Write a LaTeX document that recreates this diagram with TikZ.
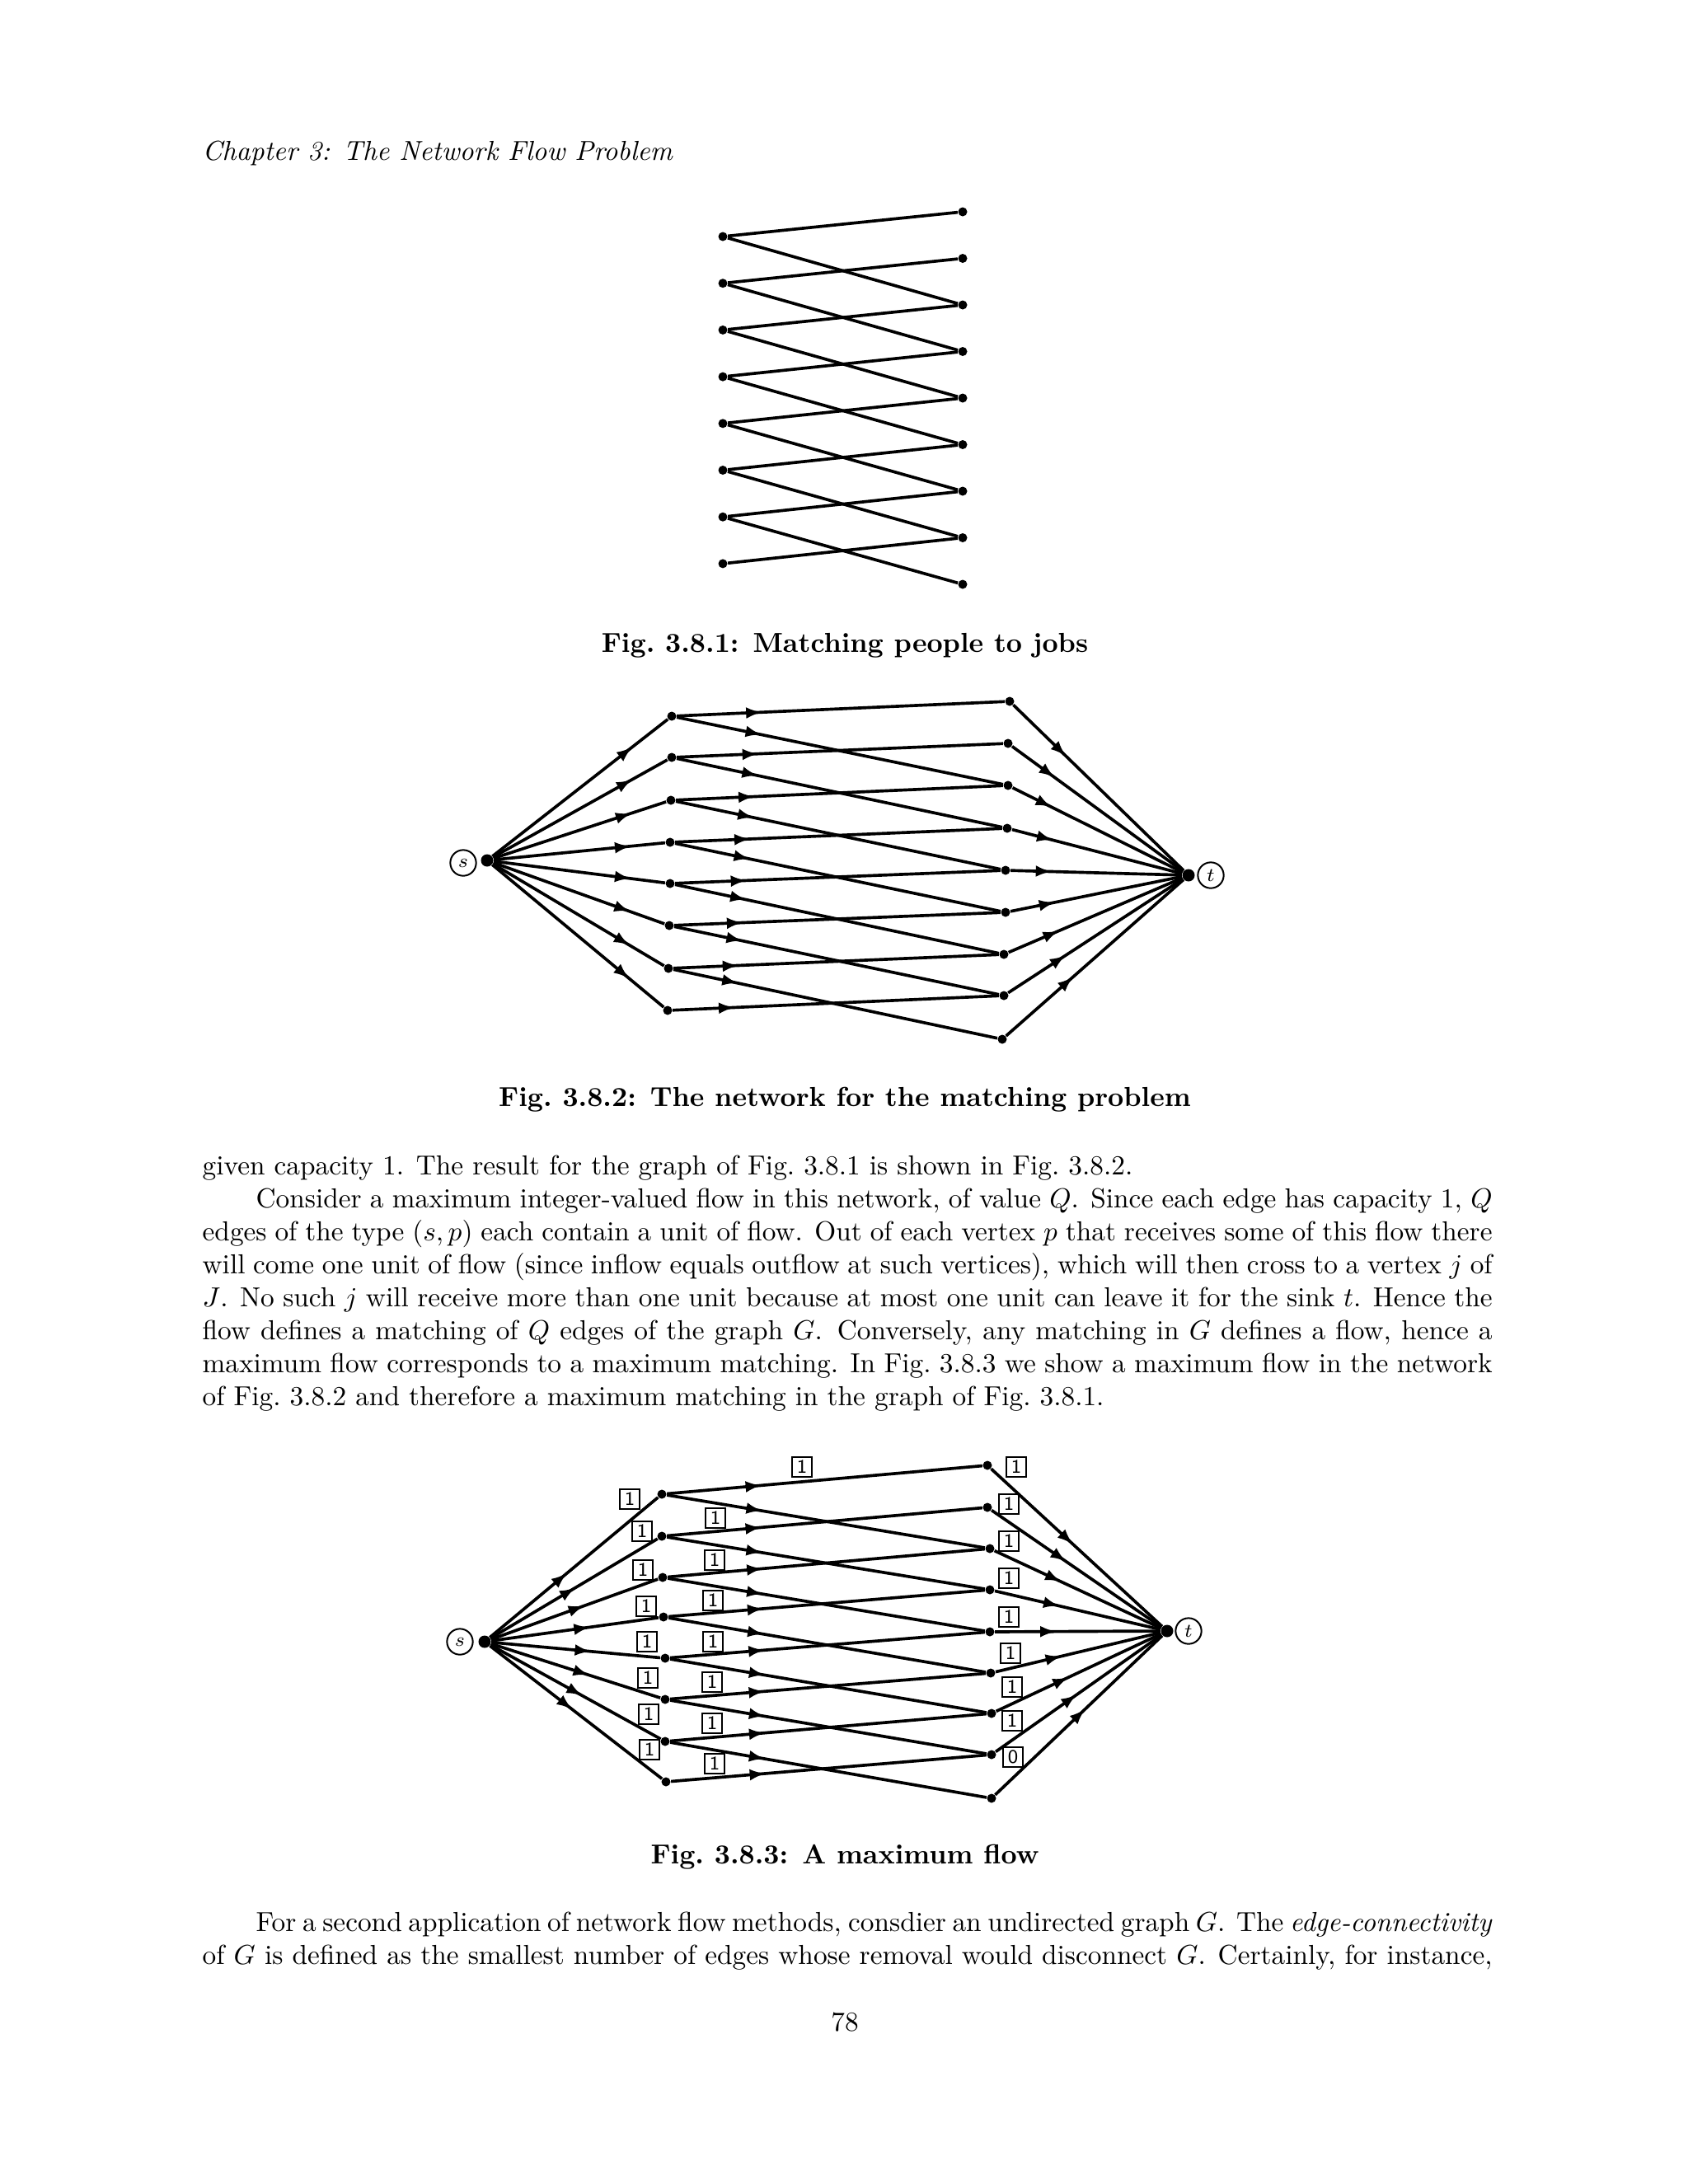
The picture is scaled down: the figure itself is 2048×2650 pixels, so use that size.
\documentclass[tikz,border=0pt]{standalone}
\usepackage{amsmath,amssymb}
\usepackage{tikz}
\usetikzlibrary{arrows.meta,decorations.markings,calc}

\newlength\linew
\setlength\linew{469.5pt}
\newcommand{\jline}[1]{\makebox[\linew][s]{#1}}

\tikzset{
  vtx/.style={circle,fill=black,inner sep=0pt,minimum size=3.3pt},
  link/.style={line width=1.1pt},
  flow/.style={link,postaction={decorate},
    decoration={markings,mark=at position #1 with {\arrow{Latex[length=5.8pt,width=4.2pt]}}}},
  flow/.default=0.5,
  term/.style={circle,draw,line width=0.6pt,inner sep=0pt,minimum size=9.4pt,font=\scriptsize},
  capbox/.style={draw,line width=0.65pt,inner sep=0pt,minimum size=7.2pt,
    font=\sffamily\fontsize{7}{7}\selectfont},
  txtline/.style={anchor=base west,inner sep=0pt},
  capline/.style={anchor=base,inner sep=0pt,font=\bfseries}
}

\begin{document}
\begin{tikzpicture}[x=0.3pt,y=-0.3pt]
  \useasboundingbox[fill=white] (0,0) rectangle (2048,2650);

  % running head
  \node[txtline,font=\itshape] (head) at (245,194) {Chapter 3: The Network Flow Problem};

  % Fig. 3.8.1: people (left) and jobs (right)
  \foreach \i [evaluate=\i as \y using 287+56.7*(\i-1)] in {1,...,8}
    \node[vtx] (pp\i) at (877,\y) {};
  \foreach \i [evaluate=\i as \y using 257+56.5*(\i-1)] in {1,...,9}
    \node[vtx] (jj\i) at (1168,\y) {};
  \foreach \i in {1,...,8} \draw[link] (pp\i) -- (jj\i);
  \foreach \i [evaluate=\i as \k using int(\i+2)] in {1,...,7} \draw[link] (pp\i) -- (jj\k);
  \node[capline] (cap1) at (1025,791) {Fig.\ 3.8.1: Matching people to jobs};

  % Fig. 3.8.2: the network
  \node[vtx,minimum size=4.5pt] (ns) at (591,1044) {};
  \node[vtx,minimum size=4.5pt] (nt) at (1442,1062) {};
  \node[term] (nsl) at (562,1047) {$s$};
  \node[term] (ntl) at (1469,1062) {$t$};
  \foreach \i/\x/\y in {1/815/869,2/815/919,3/814/971,4/813/1022,5/813/1072,6/812/1123,7/811/1175,8/810/1226}
    \node[vtx] (np\i) at (\x,\y) {};
  \foreach \i/\x/\y in {1/1225/851,2/1223/902,3/1223/953,4/1222/1005,5/1220/1056,6/1220/1107,7/1218/1158,8/1218/1208,9/1216/1261}
    \node[vtx] (nj\i) at (\x,\y) {};
  \foreach \i in {1,...,8} \draw[flow=0.8] (ns) -- (np\i);
  \foreach \i [evaluate=\i as \a using 0.27-0.01*\i] in {1,...,8} \draw[flow=\a] (np\i) -- (nj\i);
  \foreach \i [evaluate=\i as \k using int(\i+2), evaluate=\i as \a using 0.27-0.01*\i] in {1,...,7}
    \draw[flow=\a] (np\i) -- (nj\k);
  \foreach \i/\a in {1/0.31,2/0.25,3/0.23,4/0.24,5/0.24,6/0.26,7/0.29,8/0.33,9/0.38}
    \draw[flow=\a] (nj\i) -- (nt);
  \node[capline] (cap2) at (1025,1342) {Fig.\ 3.8.2: The network for the matching problem};

  % text
  \node[txtline] (l1) at (245,1425) {given capacity 1. The result for the graph of Fig.~3.8.1 is shown in Fig.~3.8.2.};
  \node[txtline] (l2) at (245,1465) {\jline{\hspace*{19.5pt}Consider a maximum integer-valued flow in this network, of value $Q$. Since each edge has capacity 1, $Q$}};
  \node[txtline] (l3) at (245,1505) {\jline{edges of the type $(s,p)$ each contain a unit of flow. Out of each vertex $p$ that receives some of this flow there}};
  \node[txtline] (l4) at (245,1545) {\jline{will come one unit of flow (since inflow equals outflow at such vertices), which will then cross to a vertex $j$ of}};
  \node[txtline] (l5) at (245,1585) {\jline{$J$. No such $j$ will receive more than one unit because at most one unit can leave it for the sink $t$. Hence the}};
  \node[txtline] (l6) at (245,1625) {\jline{flow defines a matching of $Q$ edges of the graph $G$. Conversely, any matching in $G$ defines a flow, hence a}};
  \node[txtline] (l7) at (245,1665) {\jline{maximum flow corresponds to a maximum matching. In Fig.~3.8.3 we show a maximum flow in the network}};
  \node[txtline] (l8) at (245,1705) {of Fig.~3.8.2 and therefore a maximum matching in the graph of Fig.~3.8.1.};

  % Fig. 3.8.3: a maximum flow
  \node[vtx,minimum size=4.5pt] (ms) at (588,1992) {};
  \node[vtx,minimum size=4.5pt] (mt) at (1416,1979) {};
  \node[term] (msl) at (558,1992) {$s$};
  \node[term] (mtl) at (1442,1979) {$t$};
  \foreach \i/\x/\y in {1/803/1813,2/803/1864,3/804/1914,4/805/1962,5/807/2012,6/807/2062,7/807/2113,8/808/2162}
    \node[vtx] (mp\i) at (\x,\y) {};
  \foreach \i/\x/\y in {1/1198/1778,2/1198/1829,3/1201/1879,4/1201/1929,5/1201/1980,6/1202/2030,7/1203/2079,8/1203/2129,9/1203/2182}
    \node[vtx] (mj\i) at (\x,\y) {};
  \foreach \i/\a in {1/0.46,2/0.51,3/0.56,4/0.59,5/0.59,6/0.58,7/0.54,8/0.48}
    \draw[flow=\a] (ms) -- (mp\i);
  \foreach \i in {1,...,8} \draw[flow=0.3] (mp\i) -- (mj\i);
  \foreach \i [evaluate=\i as \k using int(\i+2)] in {1,...,7} \draw[flow=0.3] (mp\i) -- (mj\k);
  \foreach \i/\a in {1/0.48,2/0.44,3/0.40,4/0.39,5/0.37,6/0.40,7/0.44,8/0.49,9/0.54}
    \draw[flow=\a] (mj\i) -- (mt);
  % flow values
  \foreach \i/\x/\y in {1/764/1819,2/779/1858,3/780/1905,4/784/1949,5/785/1992,6/786/2036,7/787/2080,8/788/2123}
    \node[capbox] (fa\i) at (\x,\y) {1};
  \foreach \i/\x/\y in {1/973/1780,2/868/1842,3/867/1893,4/865/1942,5/865/1992,6/864/2041,7/864/2091,8/867/2140}
    \node[capbox] (fb\i) at (\x,\y) {1};
  \foreach \i/\x/\y/\v in {1/1233/1780/1,2/1224/1825/1,3/1224/1870/1,4/1224/1915/1,5/1224/1962/1,6/1226/2006/1,7/1228/2047/1,8/1228/2088/1,9/1229/2132/0}
    \node[capbox] (fc\i) at (\x,\y) {\v};
  \node[capline] (cap3) at (1025,2261) {Fig.\ 3.8.3: A maximum flow};

  \node[txtline] (m1) at (245,2343) {\jline{\hspace*{19.5pt}For a second application of network flow methods, consdier an undirected graph $G$. The \emph{edge-connectivity}}};
  \node[txtline] (m2) at (245,2383) {\jline{of $G$ is defined as the smallest number of edges whose removal would disconnect $G$. Certainly, for instance,}};

  \node[anchor=base,inner sep=0pt] (pageno) at (1025,2464) {78};
\end{tikzpicture}
\end{document}
